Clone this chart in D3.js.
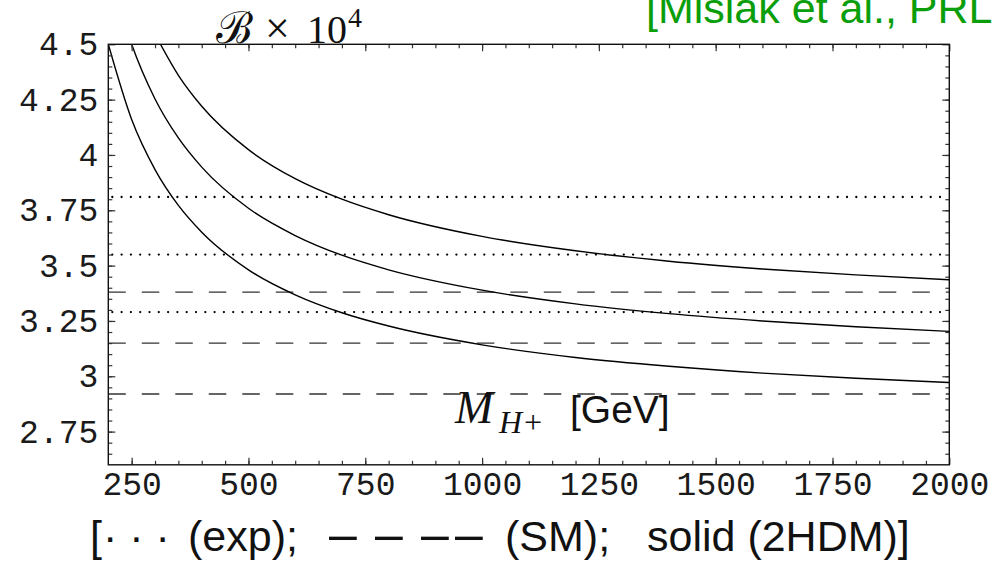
<!DOCTYPE html>
<html>
<head>
<meta charset="utf-8">
<script src="https://cdnjs.cloudflare.com/ajax/libs/d3/7.8.5/d3.min.js"></script>
<style>
body { margin: 0; background: #fff; overflow: hidden; }
svg text { white-space: pre; }
</style>
</head>
<body>
<div id="chart"></div>
<script>

// 2HDM curves (M_H+ in GeV, B x 10^4)
var massLow = [200, 250, 300, 350, 400, 500, 600, 700, 800, 1000, 1200, 1400, 1600, 1800, 2000];
var bLow    = [4.500, 4.160, 3.934, 3.772, 3.651, 3.481, 3.368, 3.287, 3.227, 3.142, 3.085, 3.045, 3.014, 2.991, 2.972];

var massMid = [240, 250, 300, 350, 400, 500, 600, 700, 800, 1000, 1200, 1400, 1600, 1800, 2000];
var bMid    = [4.562, 4.500, 4.253, 4.077, 3.945, 3.759, 3.636, 3.547, 3.481, 3.389, 3.327, 3.283, 3.250, 3.224, 3.203];

var massHigh = [300, 350, 400, 500, 600, 700, 800, 1000, 1200, 1400, 1600, 1800, 2000];
var bHigh    = [4.546, 4.360, 4.220, 4.024, 3.893, 3.800, 3.730, 3.632, 3.567, 3.520, 3.485, 3.458, 3.436];

// horizontal bands
var expLevels = [3.81, 3.55, 3.29];	// dotted (exp)
var smLevels  = [3.38, 3.15, 2.92];	// dashed (SM)

// ticks
var xTicks = [250, 500, 750, 1000, 1250, 1500, 1750, 2000];
var xTickLabels = ["250", "500", "750", "1000", "1250", "1500", "1750", "2000"];
var yTicks = [2.75, 3, 3.25, 3.5, 3.75, 4, 4.25, 4.5];
var yTickLabels = ["2.75", "3", "3.25", "3.5", "3.75", "4", "4.25", "4.5"];

var width = 994, height = 563;
var plot = { left: 108.3, right: 949.3, top: 44.3, bottom: 464.8 };

var svg = d3.select("#chart")
	.append("svg")
		.attr("width", width)
		.attr("height", height);

var xScale = d3.scaleLinear()
	.domain([200, 2000])
	.range([plot.left, plot.right]);

var yScale = d3.scaleLinear()
	.domain([2.6, 4.5])
	.range([plot.bottom, plot.top]);

// clip for the curves
svg.append("clipPath").attr("id", "clip")
	.append("rect")
		.attr("x", plot.left).attr("y", plot.top)
		.attr("width", plot.right - plot.left)
		.attr("height", plot.bottom - plot.top);

var g = svg.append("g");

/*
 *	HORIZONTAL LINES
 */
g.selectAll("line.exp")
	.data(expLevels).enter()
	.append("line")
		.attr("class", "exp")
		.attr("x1", xScale(200) + 4)
		.attr("x2", xScale(2000))
		.attr("y1", function(d){ return yScale(d) })
		.attr("y2", function(d){ return yScale(d) })
		.attr("stroke", "#000")
		.attr("stroke-width", 2.3)
		.attr("stroke-linecap", "round")
		.attr("stroke-dasharray", "0,9.3");

g.selectAll("line.sm")
	.data(smLevels).enter()
	.append("line")
		.attr("class", "sm")
		.attr("x1", xScale(200))
		.attr("x2", xScale(2000))
		.attr("y1", function(d){ return yScale(d) })
		.attr("y2", function(d){ return yScale(d) })
		.attr("stroke", "#333")
		.attr("stroke-width", 1.4)
		.attr("stroke-dasharray", "17.5,16");

/*
 *	2HDM CURVES
 */
var curves = [
	{ m: massLow, b: bLow },
	{ m: massMid, b: bMid },
	{ m: massHigh, b: bHigh }
];

var line = d3.line()
	.x(function(d){ return xScale(d[0]) })
	.y(function(d){ return yScale(d[1]) })
	.curve(d3.curveMonotoneX);

g.selectAll("path.curve")
	.data(curves).enter()
	.append("path")
		.attr("class", "curve")
		.attr("clip-path", "url(#clip)")
		.attr("d", function(c){ return line(d3.zip(c.m, c.b)) })
		.attr("fill", "none")
		.attr("stroke", "#000")
		.attr("stroke-width", 1.4);

/*
 *	AXES (ticks inward, frame around)
 */
var tickColor = "#333";
var xMinor = d3.range(250, 2000, 50);
var yMinor = d3.range(2.65, 4.5, 0.05);

function style_axis(sel){
	sel.select(".domain").remove();
	sel.selectAll("line").attr("stroke", tickColor).attr("stroke-width", 1.2);
}

// bottom
svg.append("g")
	.attr("transform", "translate(0," + plot.bottom + ")")
	.call(d3.axisBottom(xScale).tickValues(xMinor).tickSize(-4).tickFormat(""))
	.call(style_axis);
svg.append("g")
	.attr("class", "x axis")
	.attr("transform", "translate(0," + plot.bottom + ")")
	.call(d3.axisBottom(xScale).tickValues(xTicks).tickSize(-7).tickPadding(7)
		.tickFormat(function(d, i){ return xTickLabels[i] }))
	.call(style_axis);

// top
svg.append("g")
	.attr("transform", "translate(0," + plot.top + ")")
	.call(d3.axisTop(xScale).tickValues(xMinor).tickSize(-4).tickFormat(""))
	.call(style_axis);
svg.append("g")
	.attr("transform", "translate(0," + plot.top + ")")
	.call(d3.axisTop(xScale).tickValues(xTicks).tickSize(-7).tickFormat(""))
	.call(style_axis);

// left
svg.append("g")
	.attr("transform", "translate(" + plot.left + ",0)")
	.call(d3.axisLeft(yScale).tickValues(yMinor).tickSize(-4).tickFormat(""))
	.call(style_axis);
svg.append("g")
	.attr("class", "y axis")
	.attr("transform", "translate(" + plot.left + ",0)")
	.call(d3.axisLeft(yScale).tickValues(yTicks).tickSize(-7).tickPadding(10)
		.tickFormat(function(d, i){ return yTickLabels[i] }))
	.call(style_axis);

// right
svg.append("g")
	.attr("transform", "translate(" + plot.right + ",0)")
	.call(d3.axisRight(yScale).tickValues(yMinor).tickSize(-4).tickFormat(""))
	.call(style_axis);
svg.append("g")
	.attr("transform", "translate(" + plot.right + ",0)")
	.call(d3.axisRight(yScale).tickValues(yTicks).tickSize(-7).tickFormat(""))
	.call(style_axis);

svg.selectAll(".axis text")
	.attr("font-family", "'Liberation Mono', 'DejaVu Sans Mono', monospace")
	.attr("font-size", 33)
	.attr("fill", "#1a1a1a");

// frame
svg.append("rect")
	.attr("x", plot.left).attr("y", plot.top)
	.attr("width", plot.right - plot.left)
	.attr("height", plot.bottom - plot.top)
	.attr("fill", "none")
	.attr("stroke", "#111")
	.attr("stroke-width", 1.4);

/*
 *	TEXTS
 */
var serif = "'Liberation Serif', 'DejaVu Serif', serif";
var sans = "'Liberation Sans', 'DejaVu Sans', sans-serif";

// y label
var yLab = svg.append("text")
	.attr("y", 43)
	.attr("font-family", serif)
	.attr("font-size", 40)
	.attr("fill", "#111");
yLab.append("tspan").attr("x", 216).attr("font-family", "'DejaVu Serif', serif")
	.attr("font-size", 44).text("\u212C");
yLab.append("tspan").attr("x", 265).attr("font-size", 44).text("\u00D7");
yLab.append("tspan").attr("x", 307).text("10");
yLab.append("tspan").attr("x", 348).attr("font-size", 28).attr("dy", -16).text("4");

// citation (runs off the top and right edge, as in the source)
svg.append("text")
	.attr("x", 646).attr("y", 23)
	.attr("font-family", sans)
	.attr("font-size", 43)
	.attr("fill", "#0a9e0a")
	.text("[Misiak et al., PRL 98, 022002]");

// x label
var xLab = svg.append("text")
	.attr("y", 423)
	.attr("font-family", serif)
	.attr("font-size", 46)
	.attr("fill", "#111");
xLab.append("tspan").attr("x", 455).attr("font-style", "italic").text("M");
xLab.append("tspan").attr("x", 499).attr("font-style", "italic").attr("font-size", 32).attr("dy", 10).text("H+");
xLab.append("tspan").attr("x", 570).attr("font-family", sans).attr("font-size", 39).attr("dy", -10).text("[GeV]");

// legend line
var leg = svg.append("text")
	.attr("y", 551)
	.attr("font-family", sans)
	.attr("font-size", 43)
	.attr("fill", "#111");
leg.append("tspan").attr("x", 90).text("[");
leg.append("tspan").attr("x", 103).text("\u00B7 \u00B7 \u00B7");
leg.append("tspan").attr("x", 188).text("(exp);");
leg.append("tspan").attr("x", 329).attr("font-size", 50).text("\u2013");
leg.append("tspan").attr("x", 375).attr("font-size", 50).text("\u2013");
leg.append("tspan").attr("x", 421).attr("font-size", 50).text("\u2013");
leg.append("tspan").attr("x", 455).attr("font-size", 50).text("\u2013");
leg.append("tspan").attr("x", 505).text("(SM);");
leg.append("tspan").attr("x", 647).text("solid (2HDM)]");

</script>
</body>
</html>
